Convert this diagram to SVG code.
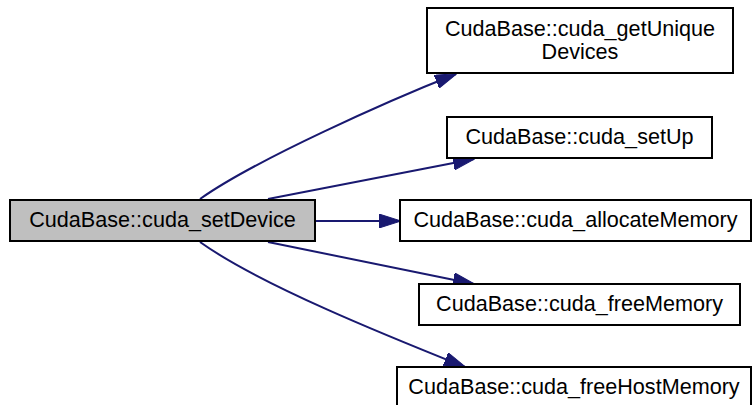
<svg xmlns="http://www.w3.org/2000/svg" width="753" height="405" viewBox="0 0 753 405">
<style>
.box{fill:#ffffff;stroke:#000000;stroke-width:2}
.cur{fill:#bfbfbf;stroke:#000000;stroke-width:2}
text{font-family:"Liberation Sans",Arial,Helvetica,sans-serif;font-size:21.6px;fill:#000000;text-anchor:middle}
.edge{fill:none;stroke:#191970;stroke-width:2}
</style>
<defs>
<marker id="arr" viewBox="0 0 22 14" refX="21" refY="7" markerWidth="22" markerHeight="14" markerUnits="userSpaceOnUse" orient="auto">
<path d="M0,0 L22,7 L0,14 z" fill="#191970" stroke="#191970" stroke-width="1"/>
</marker>
</defs>
<rect width="753" height="405" fill="#ffffff"/>
<g id="connectors">
<path class="edge" marker-end="url(#arr)" d="M200,199 C255,160 390,100 456,74"/>
<path class="edge" marker-end="url(#arr)" d="M268,199 L474,159"/>
<path class="edge" marker-end="url(#arr)" d="M315,221 L400,221"/>
<path class="edge" marker-end="url(#arr)" d="M268,242 L474,284"/>
<path class="edge" marker-end="url(#arr)" d="M200,242 C260,285 390,337 465,367"/>
</g>
<g id="node_setDevice">
<rect class="cur" x="10" y="200" width="305" height="41"/>
<text x="162.5" y="227">CudaBase::cuda_setDevice</text>
</g>
<g id="node_getUniqueDevices">
<rect class="box" x="427" y="8" width="306" height="65"/>
<text x="580" y="36">CudaBase::cuda_getUnique</text>
<text x="580" y="59">Devices</text>
</g>
<g id="node_setUp">
<rect class="box" x="447" y="117" width="265" height="41"/>
<text x="579.5" y="144">CudaBase::cuda_setUp</text>
</g>
<g id="node_allocateMemory">
<rect class="box" x="400" y="200" width="351" height="41"/>
<text x="575.5" y="227">CudaBase::cuda_allocateMemory</text>
</g>
<g id="node_freeMemory">
<rect class="box" x="419" y="284" width="321" height="41"/>
<text x="579.5" y="311">CudaBase::cuda_freeMemory</text>
</g>
<g id="node_freeHostMemory">
<rect class="box" x="397" y="367" width="354" height="41"/>
<text x="574" y="394">CudaBase::cuda_freeHostMemory</text>
</g>
</svg>
